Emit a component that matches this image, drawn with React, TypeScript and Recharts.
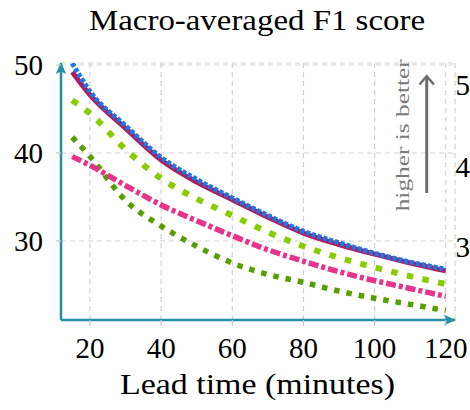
import { LineChart, Line, XAxis, YAxis, CartesianGrid } from 'recharts';

// lead time in minutes and macro-averaged F1 score per series
const leadTimes = [15, 20, 30, 40, 50, 60, 70, 80, 90, 100, 110, 120];
const blueDotted = [50.2, 47.0, 43.1, 39.5, 37.0, 34.9, 32.9, 31.1, 29.8, 28.6, 27.6, 26.8];
const purpleSolid = [49.2, 46.6, 42.8, 39.2, 36.7, 34.7, 32.7, 30.9, 29.6, 28.5, 27.5, 26.6];
const limeDashed = [46.0, 44.5, 40.4, 37.1, 34.8, 32.9, 31.0, 29.4, 28.1, 27.0, 26.0, 25.1];
const pinkDashDot = [39.6, 38.6, 36.3, 34.1, 32.3, 30.6, 29.0, 27.7, 26.5, 25.5, 24.6, 23.7];
const greenDotted = [41.8, 39.6, 34.6, 31.7, 29.4, 27.5, 26.2, 25.3, 24.3, 23.5, 22.8, 22.1];

const xTicks = [20, 40, 60, 80, 100, 120];
const yTicks = [30, 40, 50];
// first digits of the neighbouring panel's y ticks, clipped by the figure edge
const neighbourTicks = ['5', '4', '3'];

const data = leadTimes.map((t, i) => ({
  t,
  blue: blueDotted[i],
  purple: purpleSolid[i],
  lime: limeDashed[i],
  pink: pinkDashDot[i],
  green: greenDotted[i],
}));

const AXIS = '#2390a7';
const FONT = 'Liberation Serif';
const tickStyle = { fontFamily: FONT, fontSize: 29, fill: '#000' };

const series = [
  { key: 'green', color: '#55a000', dash: '5.5 7', width: 5.5 },
  { key: 'pink', color: '#e6348d', dash: '10 3 4 3', width: 5.5 },
  { key: 'lime', color: '#88cc00', dash: '6.5 9.5', width: 6 },
  { key: 'purple', color: '#b01c5e', dash: undefined, width: 5 },
  { key: 'blue', color: '#1a78e6', dash: '4 2', width: 5 },
];

export default function App() {
  return (
    <div style={{ position: 'absolute', left: 0, top: 0, width: 470, height: 410, background: '#fff' }}>
      <LineChart
        width={470}
        height={410}
        data={data}
        margin={{
          top: 63, right: 15, left: 0, bottom: 0,
        }}
      >
        <CartesianGrid stroke="#d2d2d2" strokeDasharray="5 4" strokeWidth={1.2} />
        <XAxis
          type="number"
          dataKey="t"
          domain={[11.85, 122.6]}
          ticks={xTicks}
          allowDataOverflow
          height={90}
          tick={tickStyle}
          tickSize={6}
          tickMargin={11}
          tickLine={{ stroke: '#c8c8c8', strokeWidth: 1.2 }}
          axisLine={{ stroke: AXIS, strokeWidth: 2.5, markerEnd: 'url(#axisArrow)' }}
        />
        <YAxis
          type="number"
          domain={[21.02, 50.23]}
          ticks={yTicks}
          allowDataOverflow
          width={61}
          tick={tickStyle}
          tickSize={5}
          tickMargin={13}
          tickLine={{ stroke: '#c8c8c8', strokeWidth: 1.2 }}
          axisLine={{ stroke: AXIS, strokeWidth: 2.5, markerStart: 'url(#axisArrowRev)' }}
        />
        {series.map((s) => (
          <Line
            key={s.key}
            type="monotone"
            dataKey={s.key}
            stroke={s.color}
            strokeWidth={s.width}
            strokeDasharray={s.dash}
            dot={false}
            activeDot={false}
            isAnimationActive={false}
          />
        ))}
      </LineChart>
      <svg
        width={470}
        height={410}
        style={{ position: 'absolute', left: 0, top: 0, pointerEvents: 'none', overflow: 'hidden' }}
      >
        <defs>
          <marker id="axisArrow" markerUnits="userSpaceOnUse" markerWidth={12} markerHeight={12}
            viewBox="0 0 12 12" refX={11} refY={6} orient="auto">
            <path d="M0,0.8 L12,6 L0,11.2 L2.5,6 Z" fill={AXIS} />
          </marker>
          <marker id="axisArrowRev" markerUnits="userSpaceOnUse" markerWidth={12} markerHeight={12}
            viewBox="0 0 12 12" refX={11} refY={6} orient="auto-start-reverse">
            <path d="M0,0.8 L12,6 L0,11.2 L2.5,6 Z" fill={AXIS} />
          </marker>
        </defs>
        <text x={257} y={30} textAnchor="middle" fontFamily={FONT} fontSize={29}
          textLength={336} lengthAdjust="spacingAndGlyphs">Macro-averaged F1 score</text>
        <text x={257.5} y={394} textAnchor="middle" fontFamily={FONT} fontSize={29}
          textLength={275} lengthAdjust="spacingAndGlyphs">Lead time (minutes)</text>
        {neighbourTicks.map((label, i) => (
          <text key={label} x={455.5} y={[95, 177, 256.5][i]} fontFamily={FONT} fontSize={29}>{label}</text>
        ))}
        <text transform="translate(409, 135.3) rotate(-90)" textAnchor="middle" fontFamily={FONT}
          fontSize={18} fill="#7a7a7a" textLength={152} lengthAdjust="spacingAndGlyphs">higher is better</text>
        <line x1={426.7} y1={193} x2={426.7} y2={77} stroke="#6e6e6e" strokeWidth={3} />
        <path d="M419.5,84.5 L426.7,76.2 L433.9,84.5" fill="none" stroke="#6e6e6e" strokeWidth={2.5} />
      </svg>
    </div>
  );
}
